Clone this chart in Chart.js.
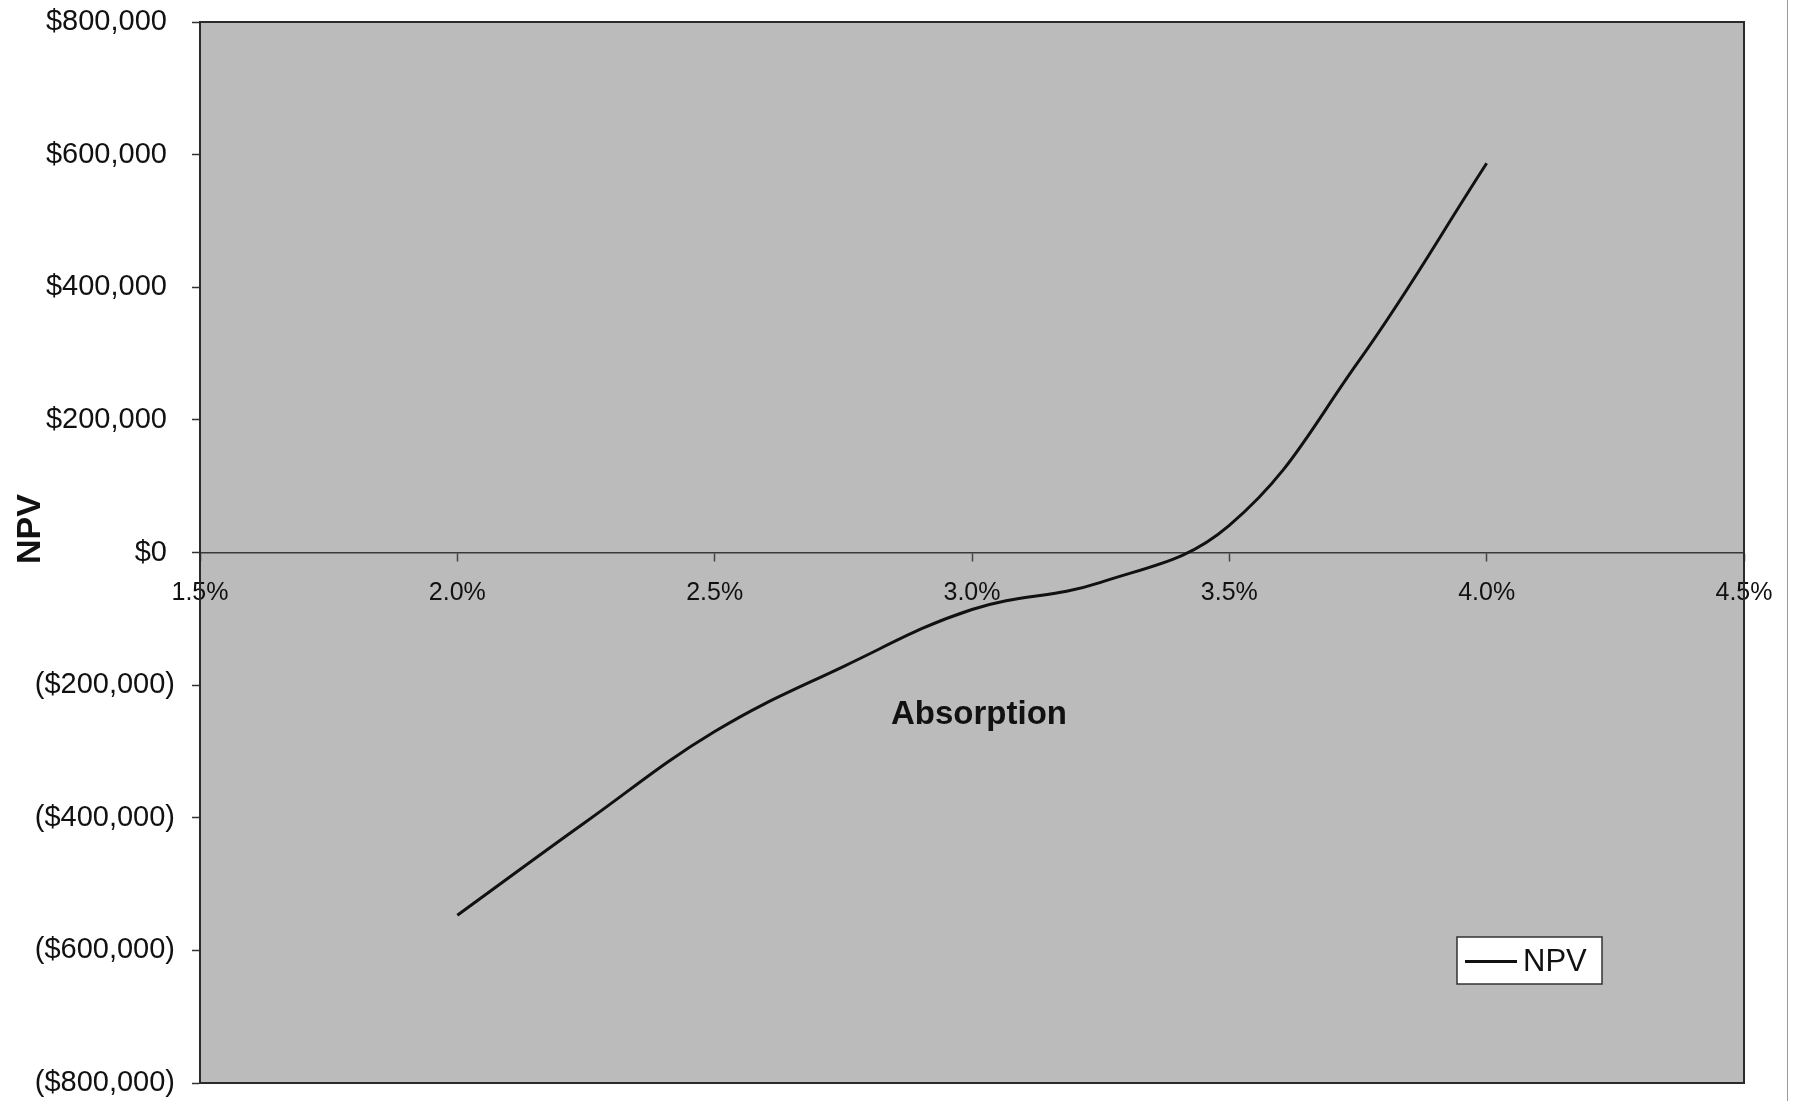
<!DOCTYPE html>
<html>
<head>
<meta charset="utf-8">
<title>NPV vs Absorption</title>
<script src="https://cdn.jsdelivr.net/npm/chart.js@4.4.1/dist/chart.umd.min.js"></script>
<style>
  html, body { margin: 0; padding: 0; background: #ffffff; }
  #wrap { position: relative; width: 1797px; height: 1101px; }
  #edge { position: absolute; left: 1787px; top: 0; width: 1px; height: 1101px; background: #9a9a9a; }
</style>
</head>
<body>
<div id="wrap">
  <canvas id="chart" width="1797" height="1101"></canvas>
  <div id="edge"></div>
</div>
<script>
// Absorption rate (%) and resulting NPV ($)
const absorption = [2.0, 2.25, 2.5, 2.75, 3.0, 3.25, 3.5, 3.75, 4.0];
const npv = [-547000, -406000, -270000, -172000, -86000, -45000, 41000, 287000, 587000];

// Axis ranges and steps
const xRange = [1.5, 4.5];
const xStep = 0.5;
const yRange = [-800000, 800000];
const yStep = 200000;

const seriesName = 'NPV';
const xTitle = 'Absorption';
const yTitle = 'NPV';

const FONT = '"Liberation Sans", Arial, Helvetica, sans-serif';

function money(v) {
  const s = '$' + Math.abs(v).toLocaleString('en-US');
  return v < 0 ? '(' + s + ')' : s + ' ';
}

// Plot fill, frame, axis titles and the boxed legend
const decorations = {
  id: 'decorations',
  beforeDraw(chart) {
    const { ctx, chartArea: a } = chart;
    ctx.save();
    ctx.fillStyle = '#bbbbbb';
    ctx.fillRect(a.left, a.top, a.right - a.left, a.bottom - a.top);
    ctx.restore();
  },
  afterDraw(chart) {
    const { ctx, chartArea: a } = chart;
    ctx.save();
    // frame
    ctx.strokeStyle = '#2a2a2a';
    ctx.lineWidth = 2;
    ctx.strokeRect(a.left, a.top, a.right - a.left, a.bottom - a.top);

    // x-axis title
    ctx.fillStyle = '#111';
    ctx.font = 'bold 33px ' + FONT;
    ctx.textAlign = 'center';
    ctx.textBaseline = 'middle';
    ctx.fillText(xTitle, (a.left + a.right) / 2 + 7, 715);

    // y-axis title
    ctx.save();
    ctx.translate(31, 529);
    ctx.rotate(-Math.PI / 2);
    ctx.font = 'bold 34px ' + FONT;
    ctx.fillText(yTitle, 0, 0);
    ctx.restore();

    // legend box
    const ds = chart.data.datasets[0];
    const bx = 1457, by = 937, bw = 145, bh = 47;
    ctx.fillStyle = '#ffffff';
    ctx.fillRect(bx, by, bw, bh);
    ctx.strokeStyle = '#333';
    ctx.lineWidth = 1.5;
    ctx.strokeRect(bx, by, bw, bh);
    ctx.strokeStyle = ds.borderColor;
    ctx.lineWidth = 3;
    ctx.beginPath();
    ctx.moveTo(bx + 8, by + bh / 2 + 1);
    ctx.lineTo(bx + 60, by + bh / 2 + 1);
    ctx.stroke();
    ctx.fillStyle = '#111';
    ctx.font = '31px ' + FONT;
    ctx.textAlign = 'left';
    ctx.textBaseline = 'middle';
    ctx.fillText(ds.label, bx + 66, by + bh / 2 + 2);
    ctx.restore();
  }
};

new Chart(document.getElementById('chart'), {
  type: 'line',
  data: {
    datasets: [{
      label: seriesName,
      data: absorption.map((x, i) => ({ x: x, y: npv[i] })),
      borderColor: '#111111',
      borderWidth: 3,
      pointRadius: 0,
      tension: 0.4,
      fill: false
    }]
  },
  options: {
    responsive: false,
    animation: false,
    events: [],
    layout: { padding: { top: 22, right: 53, bottom: 18, left: 0 } },
    plugins: {
      legend: { display: false },
      tooltip: { enabled: false },
      title: { display: false }
    },
    scales: {
      x: {
        type: 'linear',
        position: { y: 0 },
        min: xRange[0],
        max: xRange[1],
        afterFit(scale) { scale.paddingLeft = 0; scale.paddingRight = 0; },
        ticks: {
          stepSize: xStep,
          color: '#111',
          font: { family: FONT, size: 25 },
          padding: 18,
          maxRotation: 0,
          autoSkip: false,
          callback: v => v.toFixed(1) + '%'
        },
        grid: { drawOnChartArea: false, drawTicks: true, tickLength: 8, color: '#444', tickWidth: 1.5 },
        border: { display: true, color: '#3a3a3a', width: 1.5 }
      },
      y: {
        type: 'linear',
        position: 'left',
        min: yRange[0],
        max: yRange[1],
        afterFit(scale) {
          scale.width = 200;
          scale.paddingTop = 0;
          scale.paddingBottom = 0;
        },
        ticks: {
          stepSize: yStep,
          color: '#111',
          font: { family: FONT, size: 29 },
          padding: 17,
          callback: v => money(v)
        },
        grid: { drawOnChartArea: false, drawTicks: true, tickLength: 8, color: '#333', tickWidth: 1.5 },
        border: { display: true, color: '#222', width: 2 }
      }
    }
  },
  plugins: [decorations]
});
</script>
</body>
</html>
